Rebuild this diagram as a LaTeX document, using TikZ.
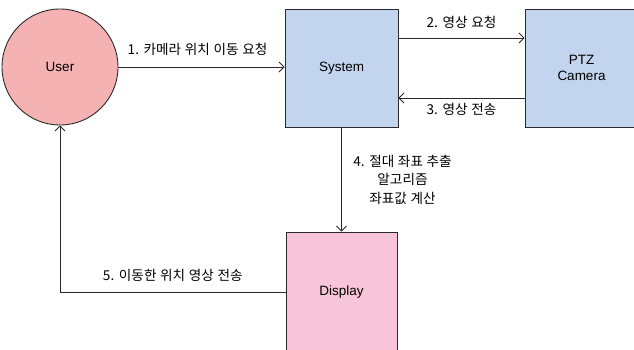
\documentclass[tikz,border=0pt]{standalone}
\usepackage{fontspec}
\setmainfont{Liberation Sans}
\newfontfamily\kr[WordSpace=1.2]{Noto Sans CJK KR}
\usetikzlibrary{arrows.meta,positioning,calc}
\definecolor{userfill}{HTML}{F4B2B2}
\definecolor{boxfill}{HTML}{C3D4EE}
\definecolor{dispfill}{HTML}{F8C5D8}
\definecolor{edge}{HTML}{2A2A2A}
\tikzset{
  block/.style={draw=edge, line width=0.9pt, minimum width=113pt, minimum height=118pt, inner sep=0pt, align=center, font=\fontsize{13.5}{15.5}\selectfont},
  conn/.style={draw=edge, line width=0.8pt, -{Straight Barb[length=5pt,width=10pt]}},
  lbl/.style={font=\kr\fontsize{13.6}{18.5}\selectfont, inner sep=0pt, align=center}
}
\begin{document}
\begin{tikzpicture}[x=1pt,y=-1pt]
\useasboundingbox (0,0) rectangle (634,350);
\begin{scope}
\clip (0,0) rectangle (634,350);
\node[circle, draw=edge, line width=0.9pt, fill=userfill, minimum size=116pt, inner sep=0pt, font=\fontsize{13.5}{15.5}\selectfont] (user) at (60,67) {User};
\node[block, fill=boxfill] (system) at (341.5,68) {System};
\node[block, fill=boxfill] (camera) at (581.5,68) {PTZ\\Camera};
\node[block, fill=dispfill, minimum width=111pt, minimum height=120pt] (display) at (341.5,292) {Display};

\draw[conn] (user.east) -- node[lbl, midway, yshift=18pt, xshift=-4pt] {1. 카메라 위치 이동 요청} (user.east -| system.west);
\draw[conn] ([yshift=30pt]system.east) -- node[lbl, midway, yshift=16pt] {2. 영상 요청} ([yshift=30pt]system.east -| camera.west);
\draw[conn] ([yshift=-30pt]camera.west) -- node[lbl, midway, yshift=-11pt] {3. 영상 전송} ([yshift=-30pt]camera.west -| system.east);
\draw[conn] (system.south) -- node[lbl, midway, xshift=61pt] {4. 절대 좌표 추출\\알고리즘\\좌표값 계산} (display.north);
\draw[conn] (display.west) -- node[lbl, midway, yshift=17pt] {5. 이동한 위치 영상 전송} (display.west -| user.south) -- (user.south);
\end{scope}
\end{tikzpicture}
\end{document}
